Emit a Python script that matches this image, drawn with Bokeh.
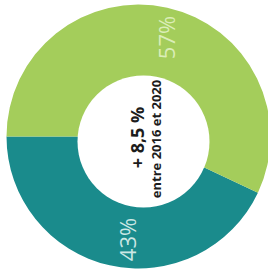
import math
from bokeh.plotting import figure
from bokeh.models import Range1d, ColumnDataSource
from bokeh.core.properties import value
from bokeh.embed import file_html
from bokeh.resources import INLINE

# data
categories = ["A", "B"]
shares = [43, 57]
labels = ["43%", "57%"]
colors = ["#1a8b8c", "#a4cd5b"]
label_colors = ["#cbe7e4", "#dbedb8"]
center_title = "+ 8,5 %"
center_sub = "entre 2016 et 2020"

W, H = 268, 269
p = figure(width=W, height=H, output_backend="svg", toolbar_location=None,
           x_range=Range1d(0, W), y_range=Range1d(-H, 0),
           min_border=0, outline_line_color=None)
p.axis.visible = False
p.grid.visible = False
p.background_fill_color = "white"
p.border_fill_color = "white"

cx, cy, R = 138, -136, 132
start0 = math.pi  # starts at 9 o'clock, goes anticlockwise (downwards)
starts, ends = [], []
a = start0
for s in shares:
    starts.append(a)
    a += s / 100 * 2 * math.pi
    ends.append(a)

src = ColumnDataSource(dict(cat=categories, share=shares, start=starts, end=ends, color=colors))
p.wedge(x=cx, y=cy, radius=R, start_angle="start", end_angle="end",
        fill_color="color", line_color=None, source=src)

# hole
p.circle(x=[143], y=[-141], radius=66, fill_color="white", line_color=None)

# percentage labels
lsrc = ColumnDataSource(dict(x=[126, 165], y=[-239, -37], t=labels, c=label_colors))
p.text(x="x", y="y", text="t", text_color="c", angle=math.pi / 2,
       text_align="center", text_baseline="middle",
       text_font=value("Open Sans"), text_font_size="22px", source=lsrc)

# center text
p.text(x=[136], y=[-137], text=[center_title], angle=math.pi / 2,
       text_align="center", text_baseline="middle", text_color="#1c1c1c",
       text_font=value("Open Sans"), text_font_style="bold", text_font_size="18px")
p.text(x=[155], y=[-138.5], text=[center_sub], angle=math.pi / 2,
       text_align="center", text_baseline="middle", text_color="#1c1c1c",
       text_font=value("Open Sans"), text_font_style="bold", text_font_size="13px")

open("out.html", "w").write(file_html(p, INLINE))
